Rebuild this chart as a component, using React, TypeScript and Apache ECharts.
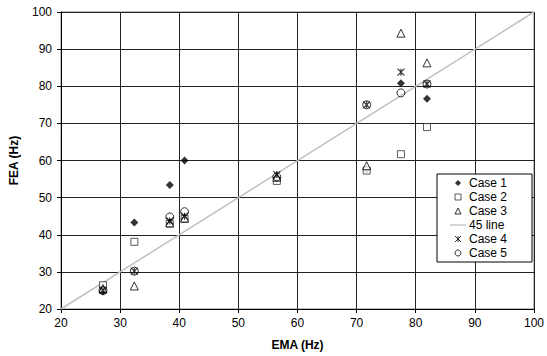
import React, { useEffect, useRef } from "react";
import * as echarts from "echarts";

const emaValues = [27.1, 32.4, 38.4, 40.9, 56.5, 71.7, 77.5, 81.9];
const case1 = [24.7, 43.3, 53.4, 60.0, 55.0, 57.7, 80.8, 76.6];
const case2 = [26.4, 38.1, 43.0, 44.3, 54.5, 57.3, 61.7, 69.0];
const case3 = [25.5, 26.2, 43.2, 44.5, 55.5, 58.6, 94.3, 86.3];
const case4 = [25.0, 30.2, 43.7, 45.0, 56.2, 75.0, 83.8, 80.6];
const case5 = [25.0, 30.2, 44.8, 46.2, 55.6, 75.0, 78.2, 80.6];
const line45 = [
  [20, 20],
  [100, 100],
];
const seriesNames = ["Case 1", "Case 2", "Case 3", "45 line", "Case 4", "Case 5"];

const FONT = "'Liberation Sans', Arial, sans-serif";
const ASTERISK = "path://M0,0L10,10M10,0L0,10M5,0L5,10";
const LINE_ICON = "path://M0,0L16,0L16,1.3L0,1.3Z";
const DIAMOND_ICON = "path://M5,0L10,5L5,10L0,5Z";
const SQUARE_ICON = "path://M0,0L10,0L10,10L0,10Z";
const TRIANGLE_ICON = "path://M5,0L10,10L0,10Z";

function pairs(ys: number[]) {
  return emaValues.map((x, i) => [x, ys[i]]);
}

export default function App() {
  const ref = useRef<HTMLDivElement>(null);
  useEffect(() => {
    if (!ref.current) return;
    const chart = echarts.init(ref.current, null, { renderer: "svg" });
    const openStyle = { color: "#ffffff", borderColor: "#000000", borderWidth: 1 };
    const legendIcons: Record<string, any> = {
      "Case 1": { icon: DIAMOND_ICON, itemStyle: { color: "#000000", borderWidth: 0 } },
      "Case 2": { icon: SQUARE_ICON, itemStyle: { color: "#ffffff", borderColor: "#333333", borderWidth: 1 } },
      "Case 3": { icon: TRIANGLE_ICON, itemStyle: { color: "#ffffff", borderColor: "#000000", borderWidth: 1 } },
      "45 line": { icon: LINE_ICON, itemStyle: { color: "#c0c0c0", borderWidth: 0 } },
      "Case 4": { icon: ASTERISK, itemStyle: { color: "transparent", borderColor: "#000000", borderWidth: 1 } },
      "Case 5": { icon: "circle", itemStyle: { color: "#ffffff", borderColor: "#000000", borderWidth: 1 } },
    };
    chart.setOption({
      animation: false,
      backgroundColor: "#ffffff",
      grid: {
        left: 54,
        top: 12,
        width: 485,
        height: 299,
        show: true,
        borderColor: "#808080",
        borderWidth: 1,
        backgroundColor: "transparent",
      },
      legend: {
        data: seriesNames.map((n) => ({ name: n, ...legendIcons[n] })),
        orient: "vertical",
        left: 437,
        top: 174,
        backgroundColor: "#ffffff",
        borderColor: "#000000",
        borderWidth: 1,
        borderRadius: 0,
        padding: [3, 25, 3, 13],
        itemGap: 2,
        itemWidth: 16,
        itemHeight: 6,
        symbolKeepAspect: true,
        textStyle: { fontFamily: FONT, fontSize: 12, color: "#000000", padding: [0, 0, 0, -2] },
      },
      xAxis: {
        type: "value",
        min: 20,
        max: 100,
        interval: 10,
        name: "EMA (Hz)",
        nameLocation: "middle",
        nameGap: 30,
        nameTextStyle: { fontFamily: FONT, fontSize: 12, fontWeight: "bold", color: "#000000" },
        axisLine: { show: true, lineStyle: { color: "#000000", width: 1 } },
        axisTick: { show: true, length: 4, lineStyle: { color: "#000000" } },
        axisLabel: { fontFamily: FONT, fontSize: 12, color: "#000000", margin: 8 },
        splitLine: { show: true, lineStyle: { color: "#222222", width: 1 } },
      },
      yAxis: {
        type: "value",
        min: 20,
        max: 100,
        interval: 10,
        name: "FEA (Hz)",
        nameLocation: "middle",
        nameGap: 41,
        nameTextStyle: { fontFamily: FONT, fontSize: 12, fontWeight: "bold", color: "#000000" },
        axisLine: { show: true, lineStyle: { color: "#000000", width: 1 } },
        axisTick: { show: true, length: 4, lineStyle: { color: "#000000" } },
        axisLabel: { fontFamily: FONT, fontSize: 12, color: "#000000", margin: 9 },
        splitLine: { show: true, lineStyle: { color: "#222222", width: 1 } },
      },
      series: [
        {
          name: "Case 1",
          type: "scatter",
          symbol: "diamond",
          symbolSize: 8,
          itemStyle: { color: "#000000" },
          data: pairs(case1),
          z: 3,
        },
        {
          name: "Case 2",
          type: "scatter",
          symbol: "rect",
          symbolSize: 7,
          itemStyle: { ...openStyle, borderColor: "#333333" },
          data: pairs(case2),
          z: 3,
        },
        {
          name: "Case 3",
          type: "scatter",
          symbol: "triangle",
          symbolSize: 8,
          itemStyle: openStyle,
          data: pairs(case3),
          z: 3,
        },
        {
          name: "45 line",
          type: "line",
          symbol: "none",
          showSymbol: false,
          lineStyle: { color: "#c0c0c0", width: 1.5 },
          itemStyle: { color: "#c0c0c0" },
          data: line45,
          z: 2,
        },
        {
          name: "Case 4",
          type: "scatter",
          symbol: ASTERISK,
          symbolSize: 7,
          itemStyle: { color: "transparent", borderColor: "#000000", borderWidth: 1.2 },
          data: pairs(case4),
          z: 3,
        },
        {
          name: "Case 5",
          type: "scatter",
          symbol: "circle",
          symbolSize: 8,
          itemStyle: { color: "transparent", borderColor: "#000000", borderWidth: 1 },
          data: pairs(case5),
          z: 3,
        },
      ],
    });
    return () => chart.dispose();
  }, []);
  return (
    <div
      ref={ref}
      style={{ position: "absolute", left: 0, top: 0, width: 547, height: 356, background: "#fff" }}
    />
  );
}
